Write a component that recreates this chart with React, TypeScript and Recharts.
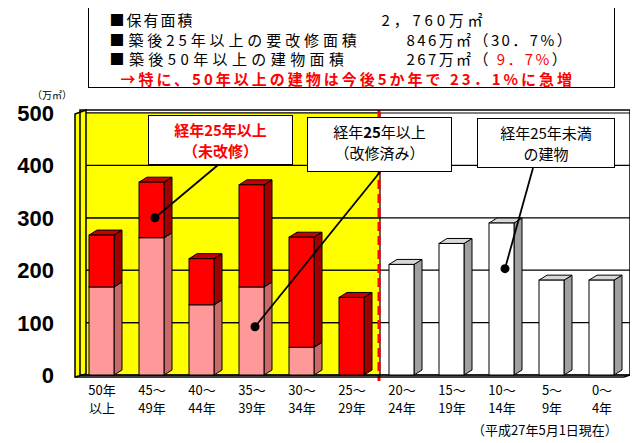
import React from 'react';
import { BarChart, Bar, XAxis, YAxis, CartesianGrid, ReferenceArea, ReferenceDot } from 'recharts';

// 経過年数（2段ラベル）
const ageFrom = ['50年', '45～', '40～', '35～', '30～', '25～', '20～', '15～', '10～', '5～', '0～'];
const ageTo = ['以上', '49年', '44年', '39年', '34年', '29年', '24年', '19年', '14年', '9年', '4年'];

// 面積（万㎡）
const renovated = [168, 262, 134, 168, 53, 0, 0, 0, 0, 0, 0];
const unrenovated = [99, 106, 88, 195, 210, 148, 0, 0, 0, 0, 0];
const under25 = [0, 0, 0, 0, 0, 0, 211, 251, 290, 181, 181];

const yTicks = [0, 100, 200, 300, 400, 500];

const data = ageFrom.map((a, i) => ({
  age: a + ageTo[i],
  from: a,
  to: ageTo[i],
  renovated: renovated[i],
  unrenovated: unrenovated[i],
  under25: under25[i],
}));

const JP = "'Noto Sans CJK JP', 'Liberation Sans', sans-serif";
const DX = 8;
const DY = 5;
const SHIFT = -4;

const bar3d = (front: string, side: string, top: string) => (props: any) => {
  const { x, y, width, height } = props;
  if (!height || height <= 0) return <g />;
  const x0 = x + SHIFT;
  const x1 = x0 + width;
  const yb = y + height;
  return (
    <g stroke="#000" strokeWidth={1}>
      <polygon points={`${x1},${y} ${x1 + DX},${y - DY} ${x1 + DX},${yb - DY} ${x1},${yb}`} fill={side} />
      <polygon points={`${x0},${y} ${x0 + DX},${y - DY} ${x1 + DX},${y - DY} ${x1},${y}`} fill={top} />
      <rect x={x0} y={y} width={width} height={height} fill={front} />
    </g>
  );
};

const YTick = (props: any) => {
  const { y, payload } = props;
  return (
    <text x={54} y={y} dy={8} textAnchor="end" fontSize={22} fontWeight="bold" fontFamily="'Liberation Sans', Arial, sans-serif" fill="#000">
      {payload.value}
    </text>
  );
};

const XTick = (props: any) => {
  const { x, y, index } = props;
  return (
    <text x={x - 3} y={y} textAnchor="middle" fontSize={13} fontFamily={JP} fill="#000">
      <tspan x={x - 3} dy={12}>{ageFrom[index]}</tspan>
      <tspan x={x - 3} dy={18}>{ageTo[index]}</tspan>
    </text>
  );
};

const sideWall = (p: any) => {
  const { x, y, width, height } = p;
  return (
    <g>
      <polygon
        points={`${x - 5},${y + 1} ${x + 6},${y - 3} ${x + 6},${y + height - 1} ${x - 5},${y + height + 2}`}
        fill="#ffff00"
        stroke="#000"
        strokeWidth={1.5}
      />
      <line x1={x + width - 1} y1={y - 3} x2={x + width - 1} y2={y + height + 6} stroke="#ff0000" strokeWidth={3} strokeDasharray="9 5" />
    </g>
  );
};

const frame = (p: any) => {
  const { x, y, width, height } = p;
  return (
    <g fill="none" stroke="#000">
      <rect x={x} y={y - 3} width={width} height={height + 3} strokeWidth={1.5} />
      <line x1={x - 5} y1={y + height + 2} x2={x + width - 6} y2={y + height + 2} strokeWidth={1.5} />
      <line x1={x + width - 6} y1={y + height + 2} x2={x + width} y2={y + height} strokeWidth={1.5} />
    </g>
  );
};

const pointer = (tx: number, ty: number) => (p: any) => (
  <g>
    <line x1={p.cx} y1={p.cy} x2={tx} y2={ty} stroke="#000" strokeWidth={1.8} />
    <circle cx={p.cx} cy={p.cy} r={4.5} fill="#000" />
  </g>
);

const boxStyle = (left: number, top: number, w: number, h: number): React.CSSProperties => ({
  position: 'absolute',
  left,
  top,
  width: w,
  height: h,
  boxSizing: 'border-box',
  border: '1.5px solid #000',
  background: '#fff',
  fontFamily: JP,
  fontSize: 15,
  lineHeight: '21px',
  textAlign: 'center',
  paddingTop: 3,
});

const row = (top: number, left: number, spacing: number, text: React.ReactNode, extra: React.CSSProperties = {}): React.ReactNode => (
  <div style={{ position: 'absolute', top, left, fontSize: 15, lineHeight: '18px', letterSpacing: spacing, whiteSpace: 'nowrap', ...extra }}>{text}</div>
);

export default function App() {
  return (
    <div style={{ position: 'relative', width: 638, height: 443, marginLeft: -8, marginTop: -8, background: '#fff', fontFamily: JP }}>
      <BarChart width={638} height={443} data={data} margin={{ top: 113, right: 8, bottom: 28, left: 0 }} barSize={25}>
        <CartesianGrid horizontal vertical={false} stroke="#000" strokeWidth={1.2} />
        {yTicks.slice(0, -1).map((v, i) => (
          <ReferenceArea
            key={v}
            x1={data[0].age}
            x2={data[5].age}
            y1={v}
            y2={yTicks[i + 1]}
            fill="#ffff00"
            fillOpacity={1}
            stroke="#000"
            strokeWidth={1.2}
            ifOverflow="visible"
          />
        ))}
        <ReferenceArea x1={data[0].age} x2={data[5].age} y1={0} y2={500} shape={sideWall} ifOverflow="visible" />
        <ReferenceArea x1={data[0].age} x2={data[10].age} y1={0} y2={500} shape={frame} ifOverflow="visible" />
        <XAxis dataKey="age" axisLine={false} tickLine={false} height={40} tick={<XTick />} interval={0} />
        <YAxis domain={[0, 500]} ticks={yTicks} width={80} axisLine={false} tickLine={false} tick={<YTick />} />
        <Bar dataKey="renovated" stackId="a" isAnimationActive={false} shape={bar3d('#ff9999', '#c86a6a', '#e88888')} />
        <Bar dataKey="unrenovated" stackId="a" isAnimationActive={false} shape={bar3d('#ff0000', '#a00000', '#c80000')} />
        <Bar dataKey="under25" stackId="a" isAnimationActive={false} shape={bar3d('#ffffff', '#a0a0a0', '#d8d8d8')} />
        <ReferenceDot x={data[1].age} y={300} shape={pointer(218, 165)} ifOverflow="visible" />
        <ReferenceDot x={data[3].age} y={92} shape={pointer(380, 172)} ifOverflow="visible" />
        <ReferenceDot x={data[8].age} y={203} shape={pointer(533, 168)} ifOverflow="visible" />
      </BarChart>

      <div style={{ position: 'absolute', left: 32, top: 89, fontSize: 10, lineHeight: '12px', fontFamily: JP }}>（万㎡）</div>

      <div style={{ position: 'absolute', left: 88, top: 2, width: 527, height: 86, boxSizing: 'border-box', border: '1.5px solid #000', background: '#fff' }}>
        {row(8, 20.5, 2.0, '■保有面積')}
        {row(8, 292.5, 3.8, '2，760万㎡')}
        {row(27.5, 20.5, 3.9, '■築後25年以上の要改修面積')}
        {row(27.5, 317.5, 2.4, '846万㎡（30．7%）')}
        {row(47, 20.5, 4.4, '■築後50年以上の建物面積')}
        {row(47, 317.5, 2.4, <span>267万㎡（<span style={{ color: '#ff0000' }}> 9．7%</span>）</span>)}
        {row(66.5, 31.5, 3.0, '→特に、50年以上の建物は今後5か年で 23．1%に急増', { color: '#ff0000', fontWeight: 'bold' })}
      </div>

      <div style={{ ...boxStyle(148, 115, 145, 50), color: '#ff0000', fontWeight: 'bold' }}>
        経年25年以上<br />（未改修）
      </div>
      <div style={boxStyle(307, 117, 145, 55)}>
        経年<b>25</b>年以上<br />（改修済み）
      </div>
      <div style={boxStyle(477, 118, 138, 50)}>
        経年25年未満<br />の建物
      </div>

      <div style={{ position: 'absolute', left: 472, top: 420, fontSize: 13, fontFamily: JP }}>（平成27年5月1日現在）</div>
    </div>
  );
}
